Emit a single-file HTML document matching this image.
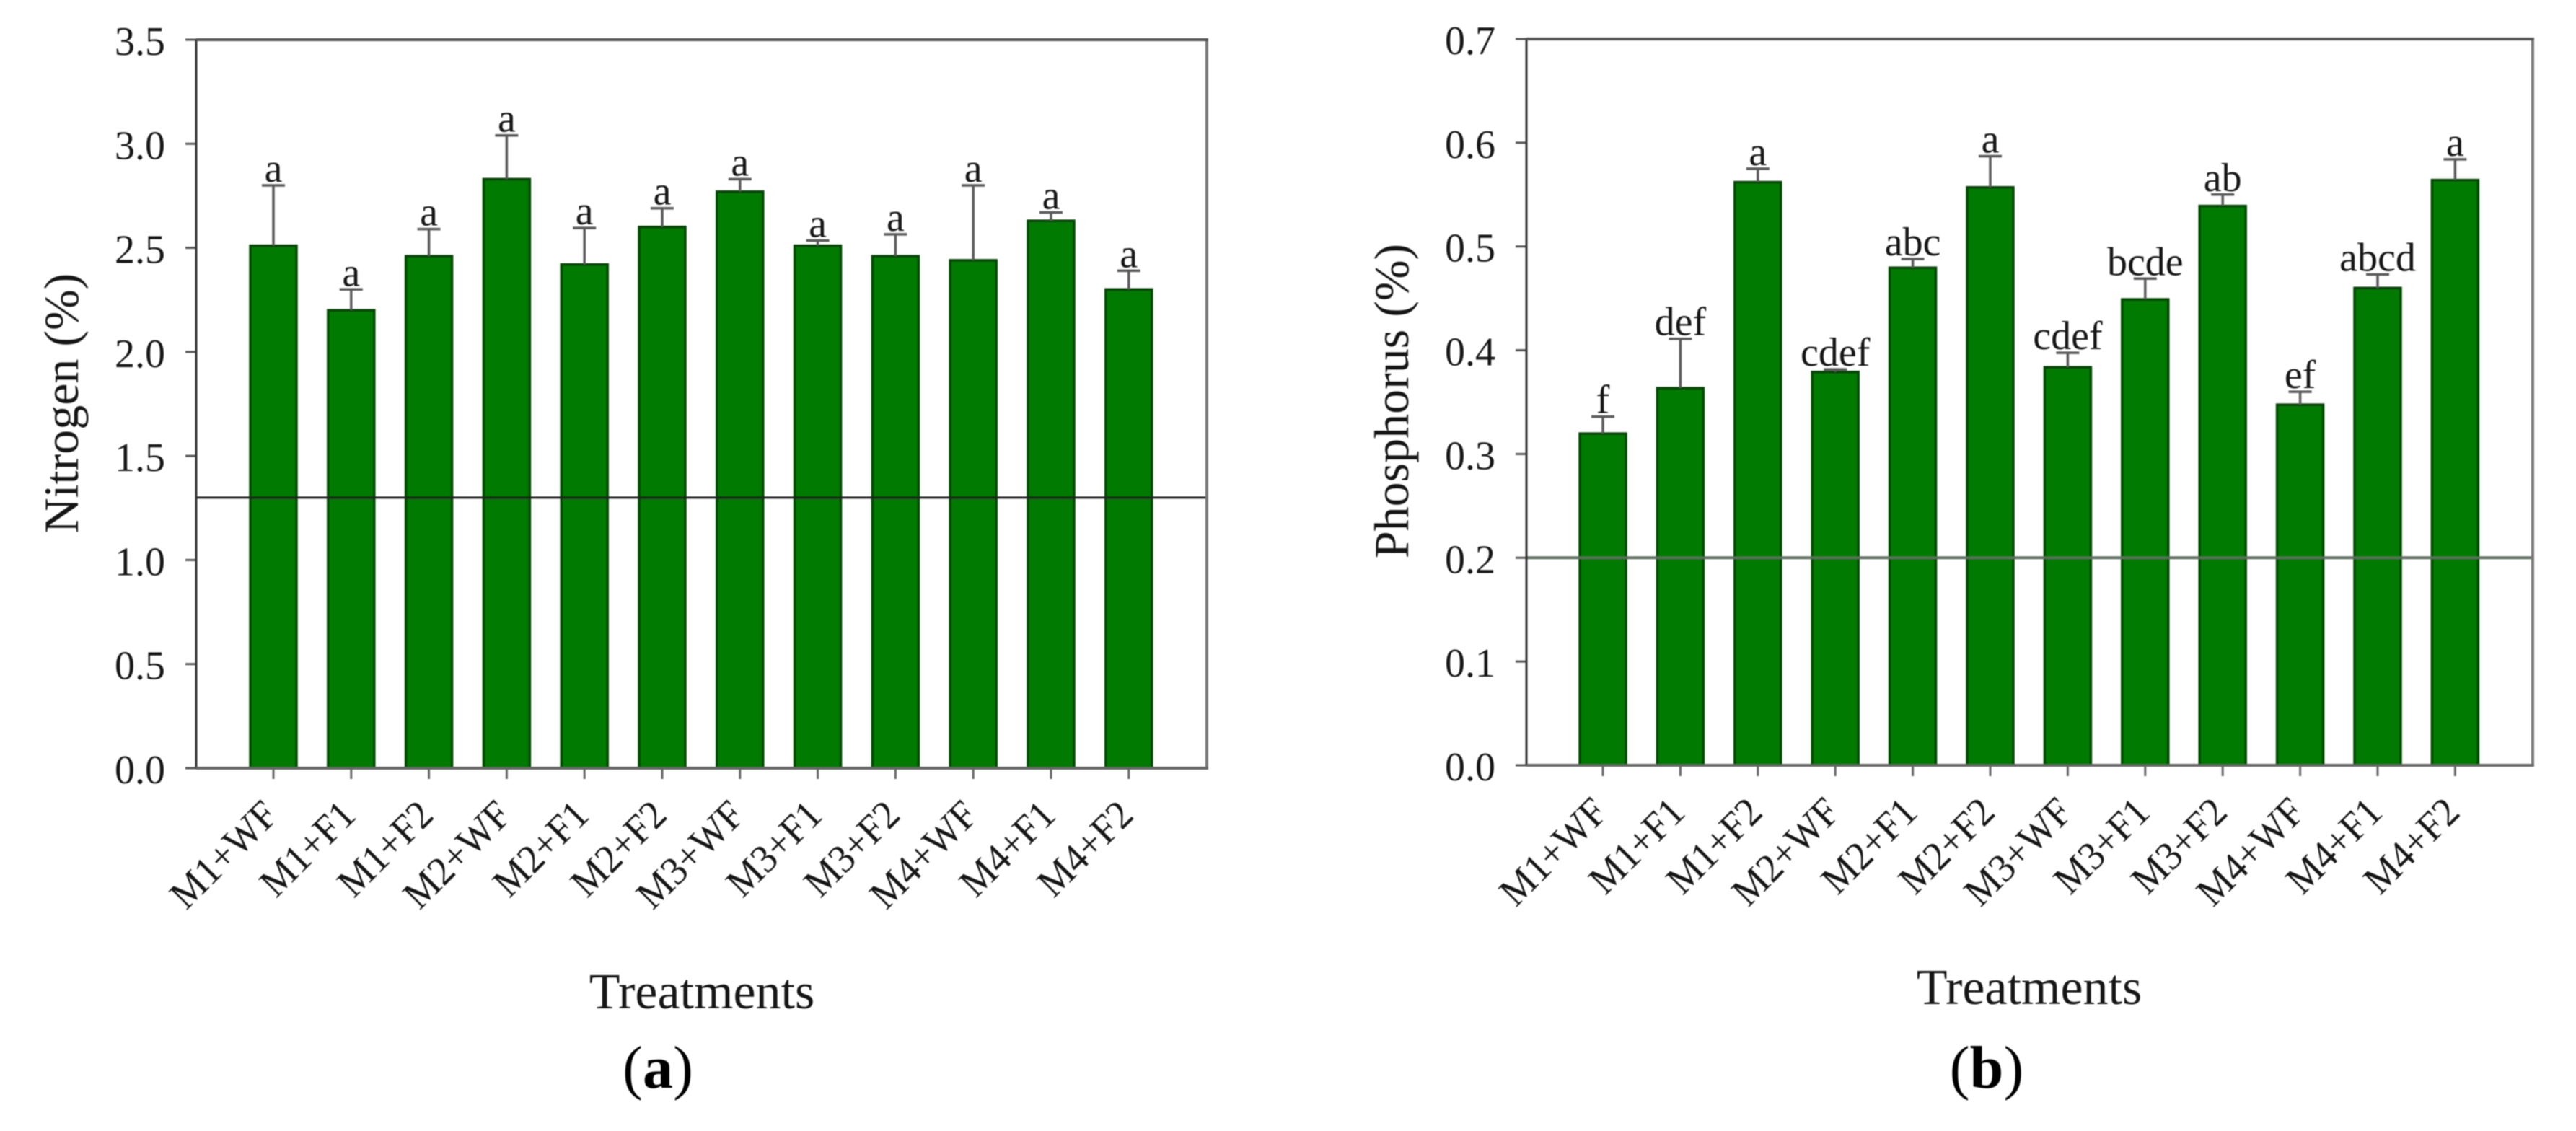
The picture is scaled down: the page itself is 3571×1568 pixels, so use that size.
<!DOCTYPE html>
<html lang="en">
<head>
<meta charset="utf-8">
<title>Nitrogen and phosphorus by treatment</title>
<style>
  html, body { margin: 0; padding: 0; background: #fff; }
  body { width: 3571px; height: 1568px; overflow: hidden; }
  svg { display: block; filter: blur(0.7px); }
  text { font-family: "Liberation Serif", serif; fill: #151515; }
</style>
</head>
<body>
<svg id="figure" xmlns="http://www.w3.org/2000/svg" width="3571" height="1568" viewBox="0 0 3571 1568">
  <rect x="0" y="0" width="3571" height="1568" fill="#fff"/>
  <text x="912" y="1508" font-size="84" text-anchor="middle" style="fill:#000">(<tspan font-weight="bold">a</tspan>)</text>
  <text x="2754" y="1508" font-size="84" text-anchor="middle" style="fill:#000">(<tspan font-weight="bold">b</tspan>)</text>
</svg>
<script>
const categories = ["M1+WF","M1+F1","M1+F2","M2+WF","M2+F1","M2+F2","M3+WF","M3+F1","M3+F2","M4+WF","M4+F1","M4+F2"];

const nitrogenValues = [2.51,2.20,2.46,2.83,2.42,2.60,2.77,2.51,2.46,2.44,2.63,2.30];
const nitrogenUpper = [2.80,2.30,2.59,3.04,2.595,2.69,2.83,2.535,2.565,2.80,2.67,2.39];
const nitrogenLetters = ["a","a","a","a","a","a","a","a","a","a","a","a"];
const nitrogenTicks = ["0.0","0.5","1.0","1.5","2.0","2.5","3.0","3.5"];
const nitrogenReference = 1.3;

const phosphorusValues = [0.3197,0.3635,0.562,0.379,0.4795,0.557,0.3836,0.449,0.539,0.3475,0.46,0.564];
const phosphorusUpper = [0.336,0.411,0.575,0.3815,0.488,0.587,0.3975,0.469,0.55,0.36,0.473,0.584];
const phosphorusLetters = ["f","def","a","cdef","abc","a","cdef","bcde","ab","ef","abcd","a"];
const phosphorusTicks = ["0.0","0.1","0.2","0.3","0.4","0.5","0.6","0.7"];
const phosphorusReference = 0.2;

const SVGNS = "http://www.w3.org/2000/svg";
const figure = document.getElementById("figure");

function mk(tag, attrs, parent) {
  const node = document.createElementNS(SVGNS, tag);
  for (const key in attrs) node.setAttribute(key, attrs[key]);
  parent.appendChild(node);
  return node;
}

function drawPanel(cfg) {
  const yScale = v => cfg.bottom - (v / cfg.yMax) * (cfg.bottom - cfg.top);
  const xScale = i => cfg.firstX + i * cfg.stepX;

  const g = mk("g", {}, figure);
  
  

  cfg.values.forEach((value, i) => {
    const cx = xScale(i);
    const bar = mk("rect", {
      x: cx - 32, y: yScale(value), width: 64, height: cfg.bottom - yScale(value),
      fill: "#007a00", stroke: "#004a00", "stroke-width": 3.5
    }, g);
    
    

    const stem = mk("line", {
      x1: cx, x2: cx, y1: yScale(value), y2: yScale(cfg.upper[i]),
      stroke: "#5a5a5a", "stroke-width": 3.5
    }, g);
    
    

    const cap = mk("line", {
      x1: cx - 16, x2: cx + 16, y1: yScale(cfg.upper[i]), y2: yScale(cfg.upper[i]),
      stroke: "#5a5a5a", "stroke-width": 3.5
    }, g);
    
    

    const letter = mk("text", {
      x: cx, y: yScale(cfg.upper[i]) - 5, "font-size": 56, "text-anchor": "middle"
    }, g);
    letter.textContent = cfg.letters[i];
    
    

    const tick = mk("line", {
      x1: cx, x2: cx, y1: cfg.bottom, y2: cfg.bottom + 15,
      stroke: "#666", "stroke-width": 3
    }, g);
    
    

    const label = mk("text", {
      "font-size": 56, "text-anchor": "end",
      transform: "translate(" + (cx + 9) + " " + (cfg.bottom + 68) + ") rotate(-45) scale(0.95 1)"
    }, g);
    label.textContent = categories[i];
    
    
  });

  cfg.ticks.forEach(text => {
    const y = yScale(parseFloat(text));
    const tick = mk("line", {
      x1: cfg.left - 15, x2: cfg.left, y1: y, y2: y, stroke: "#555", "stroke-width": 3
    }, g);
    
    

    const label = mk("text", {
      x: cfg.left - 43, y: y + 21, "font-size": 56, "text-anchor": "end"
    }, g);
    label.textContent = text;
    
    
  });

  const refLine = mk("line", {
    x1: cfg.left, x2: cfg.right, y1: yScale(cfg.reference), y2: yScale(cfg.reference),
    stroke: cfg.refColor, "stroke-width": cfg.refWidth
  }, g);
  
  

  const axisLeft = mk("line", {
    x1: cfg.left, x2: cfg.left, y1: cfg.top, y2: cfg.bottom, stroke: "#333", "stroke-width": 3
  }, g);
  
  

  const axisRight = mk("line", {
    x1: cfg.right, x2: cfg.right, y1: cfg.top, y2: cfg.bottom, stroke: "#777", "stroke-width": 4
  }, g);
  
  

  const axisTop = mk("line", {
    x1: cfg.left, x2: cfg.right + 2, y1: cfg.top, y2: cfg.top, stroke: "#555", "stroke-width": 4
  }, g);
  
  

  const axisBottom = mk("line", {
    x1: cfg.left, x2: cfg.right + 2, y1: cfg.bottom, y2: cfg.bottom, stroke: "#666", "stroke-width": 4
  }, g);
  
  

  const xTitle = mk("text", {
    x: cfg.xTitleX, y: cfg.xTitleY, "font-size": 70, "text-anchor": "middle"
  }, g);
  xTitle.textContent = "Treatments";
  
  

  const yTitle = mk("text", {
    "font-size": 68, "text-anchor": "middle",
    transform: "translate(" + cfg.yTitleX + " " + cfg.yTitleY + ") rotate(-90)"
  }, g);
  yTitle.textContent = cfg.yTitle;
  
  
}

drawPanel({
  name: "nitrogen-panel", yTitle: "Nitrogen (%)",
  values: nitrogenValues, upper: nitrogenUpper, letters: nitrogenLetters, ticks: nitrogenTicks,
  reference: nitrogenReference, refColor: "#222", refWidth: 3,
  yMax: 3.5, left: 272, right: 1673, top: 55, bottom: 1065,
  firstX: 379, stepX: 107.8,
  xTitleX: 973, xTitleY: 1398, yTitleX: 108, yTitleY: 559
});

drawPanel({
  name: "phosphorus-panel", yTitle: "Phosphorus (%)",
  values: phosphorusValues, upper: phosphorusUpper, letters: phosphorusLetters, ticks: phosphorusTicks,
  reference: phosphorusReference, refColor: "#5f6f5f", refWidth: 4,
  yMax: 0.7, left: 2116, right: 3511, top: 54, bottom: 1061,
  firstX: 2222, stepX: 107.4,
  xTitleX: 2813, xTitleY: 1392, yTitleX: 1952, yTitleY: 556
});
</script>
</body>
</html>
